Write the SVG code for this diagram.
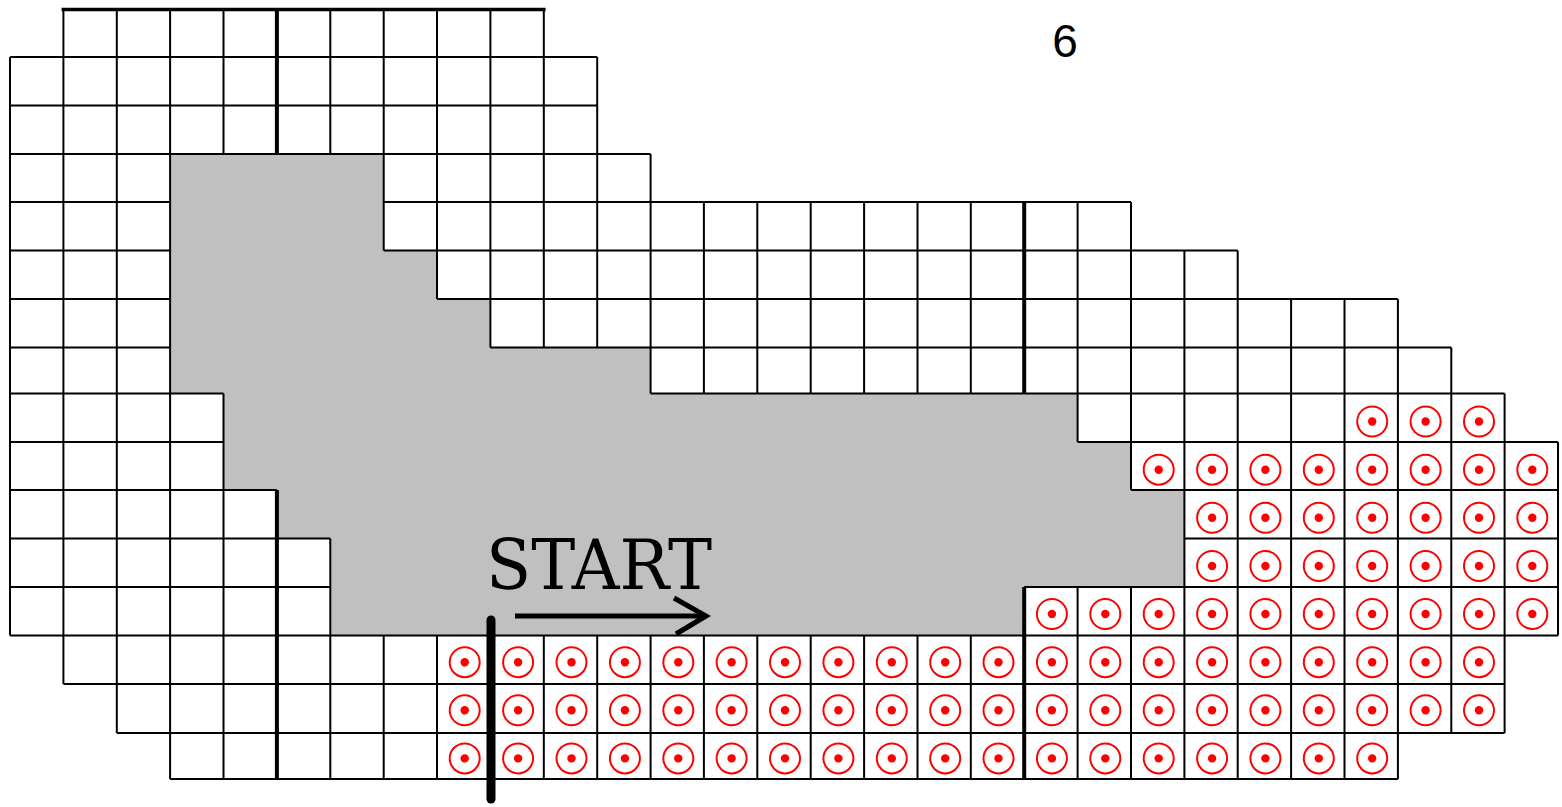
<svg xmlns="http://www.w3.org/2000/svg" width="1562" height="807" viewBox="0 0 1562 807">
<style>
.grid{fill:none;stroke:#000;stroke-width:2}
.thick{fill:none;stroke:#000;stroke-width:4}
.ring{fill:none;stroke:#f00;stroke-width:2}
.dot{fill:#f00}
.num{font-family:"Liberation Sans",Arial,sans-serif;fill:#000}
</style>
<defs>
<g id="t"><circle class="ring" r="15"/><circle class="dot" r="4.2"/></g>
</defs>
<rect width="1562" height="807" fill="#fff"/>
<g id="infield">
<path fill="#c0c0c0" d="M170.1 154 H383.7 V250.5 H437 V299 H490.4 V347.5 H650.6 V393.5 H1077.6 V442 H1131 V490 H1184.4 V587 H1024.2 V635.5 H330.3 V538.5 H276.9 V490 H223.5 V393.5 H170.1 Z"/>
</g>
<g id="track">
<path class="grid" d="M63.4 9.5 H543.8 M10 57 H597.2 M10 105.5 H597.2 M10 154 H650.6 M10 202 H170.1 M383.7 202 H1131 M10 250.5 H170.1 M383.7 250.5 H1237.7 M10 299 H170.1 M437 299 H1397.9 M10 347.5 H170.1 M490.4 347.5 H1451.3 M10 393.5 H223.5 M650.6 393.5 H1504.6 M10 442 H223.5 M1077.6 442 H1558 M10 490 H276.9 M1131 490 H1558 M10 538.5 H330.3 M1184.4 538.5 H1558 M10 587 H330.3 M1024.2 587 H1558 M10 635.5 H1558 M63.4 684 H1504.6 M116.8 733 H1504.6 M170.1 779 H1397.9"/>
<path class="grid" d="M10 57 V635.5 M63.4 9.5 V684 M116.8 9.5 V733 M170.1 9.5 V779 M223.5 9.5 V154 M223.5 393.5 V779 M330.3 9.5 V154 M330.3 538.5 V779 M383.7 9.5 V250.5 M383.7 635.5 V779 M437 9.5 V299 M437 635.5 V779 M490.4 9.5 V347.5 M490.4 635.5 V779 M543.8 9.5 V347.5 M543.8 635.5 V779 M597.2 57 V347.5 M597.2 635.5 V779 M650.6 154 V393.5 M650.6 635.5 V779 M703.9 202 V393.5 M703.9 635.5 V779 M757.3 202 V393.5 M757.3 635.5 V779 M810.7 202 V393.5 M810.7 635.5 V779 M864.1 202 V393.5 M864.1 635.5 V779 M917.5 202 V393.5 M917.5 635.5 V779 M970.8 202 V393.5 M970.8 635.5 V779 M1077.6 202 V442 M1077.6 587 V779 M1131 202 V490 M1131 587 V779 M1184.4 250.5 V779 M1237.7 250.5 V779 M1291.1 299 V779 M1344.5 299 V779 M1397.9 299 V779 M1451.3 347.5 V733 M1504.6 393.5 V733 M1558 442 V635.5"/>
<path class="thick" d="M276.9 9.5 V154 M276.9 490 V779 M1024.2 202 V393.5 M1024.2 587 V779"/>
<path fill="none" stroke="#000" stroke-width="3.5" d="M61.6 9.5 H545.6"/>
</g>
<g id="targets">
<use href="#t" x="1372.2" y="421.5"/><use href="#t" x="1425.6" y="421.5"/><use href="#t" x="1479" y="421.5"/>
<use href="#t" x="1158.7" y="469.7"/><use href="#t" x="1212.1" y="469.7"/><use href="#t" x="1265.4" y="469.7"/><use href="#t" x="1318.8" y="469.7"/><use href="#t" x="1372.2" y="469.7"/><use href="#t" x="1425.6" y="469.7"/><use href="#t" x="1479" y="469.7"/><use href="#t" x="1532.3" y="469.7"/>
<use href="#t" x="1212.1" y="517.8"/><use href="#t" x="1265.4" y="517.8"/><use href="#t" x="1318.8" y="517.8"/><use href="#t" x="1372.2" y="517.8"/><use href="#t" x="1425.6" y="517.8"/><use href="#t" x="1479" y="517.8"/><use href="#t" x="1532.3" y="517.8"/>
<use href="#t" x="1212.1" y="566"/><use href="#t" x="1265.4" y="566"/><use href="#t" x="1318.8" y="566"/><use href="#t" x="1372.2" y="566"/><use href="#t" x="1425.6" y="566"/><use href="#t" x="1479" y="566"/><use href="#t" x="1532.3" y="566"/>
<use href="#t" x="1051.9" y="614"/><use href="#t" x="1105.3" y="614"/><use href="#t" x="1158.7" y="614"/><use href="#t" x="1212.1" y="614"/><use href="#t" x="1265.4" y="614"/><use href="#t" x="1318.8" y="614"/><use href="#t" x="1372.2" y="614"/><use href="#t" x="1425.6" y="614"/><use href="#t" x="1479" y="614"/><use href="#t" x="1532.3" y="614"/>
<use href="#t" x="464.7" y="662.2"/><use href="#t" x="518.1" y="662.2"/><use href="#t" x="571.5" y="662.2"/><use href="#t" x="624.9" y="662.2"/><use href="#t" x="678.3" y="662.2"/><use href="#t" x="731.6" y="662.2"/><use href="#t" x="785" y="662.2"/><use href="#t" x="838.4" y="662.2"/><use href="#t" x="891.8" y="662.2"/><use href="#t" x="945.2" y="662.2"/><use href="#t" x="998.5" y="662.2"/><use href="#t" x="1051.9" y="662.2"/><use href="#t" x="1105.3" y="662.2"/><use href="#t" x="1158.7" y="662.2"/><use href="#t" x="1212.1" y="662.2"/><use href="#t" x="1265.4" y="662.2"/><use href="#t" x="1318.8" y="662.2"/><use href="#t" x="1372.2" y="662.2"/><use href="#t" x="1425.6" y="662.2"/><use href="#t" x="1479" y="662.2"/>
<use href="#t" x="464.7" y="710.3"/><use href="#t" x="518.1" y="710.3"/><use href="#t" x="571.5" y="710.3"/><use href="#t" x="624.9" y="710.3"/><use href="#t" x="678.3" y="710.3"/><use href="#t" x="731.6" y="710.3"/><use href="#t" x="785" y="710.3"/><use href="#t" x="838.4" y="710.3"/><use href="#t" x="891.8" y="710.3"/><use href="#t" x="945.2" y="710.3"/><use href="#t" x="998.5" y="710.3"/><use href="#t" x="1051.9" y="710.3"/><use href="#t" x="1105.3" y="710.3"/><use href="#t" x="1158.7" y="710.3"/><use href="#t" x="1212.1" y="710.3"/><use href="#t" x="1265.4" y="710.3"/><use href="#t" x="1318.8" y="710.3"/><use href="#t" x="1372.2" y="710.3"/><use href="#t" x="1425.6" y="710.3"/><use href="#t" x="1479" y="710.3"/>
<use href="#t" x="464.7" y="758.4"/><use href="#t" x="518.1" y="758.4"/><use href="#t" x="571.5" y="758.4"/><use href="#t" x="624.9" y="758.4"/><use href="#t" x="678.3" y="758.4"/><use href="#t" x="731.6" y="758.4"/><use href="#t" x="785" y="758.4"/><use href="#t" x="838.4" y="758.4"/><use href="#t" x="891.8" y="758.4"/><use href="#t" x="945.2" y="758.4"/><use href="#t" x="998.5" y="758.4"/><use href="#t" x="1051.9" y="758.4"/><use href="#t" x="1105.3" y="758.4"/><use href="#t" x="1158.7" y="758.4"/><use href="#t" x="1212.1" y="758.4"/><use href="#t" x="1265.4" y="758.4"/><use href="#t" x="1318.8" y="758.4"/><use href="#t" x="1372.2" y="758.4"/>
</g>
<g id="start">
<text x="486" y="589" font-family="DejaVu Serif, serif" font-size="70" fill="#000" textLength="226" lengthAdjust="spacingAndGlyphs">START</text>
<path d="M515 616 H704" fill="none" stroke="#000" stroke-width="5"/>
<path d="M674 598 L706 616 L676 634" fill="none" stroke="#000" stroke-width="5"/>
<path d="M491 620 V799" fill="none" stroke="#000" stroke-width="9" stroke-linecap="round"/>
</g>
<text class="num" x="1065" y="57" font-size="46" text-anchor="middle">6</text>
</svg>
